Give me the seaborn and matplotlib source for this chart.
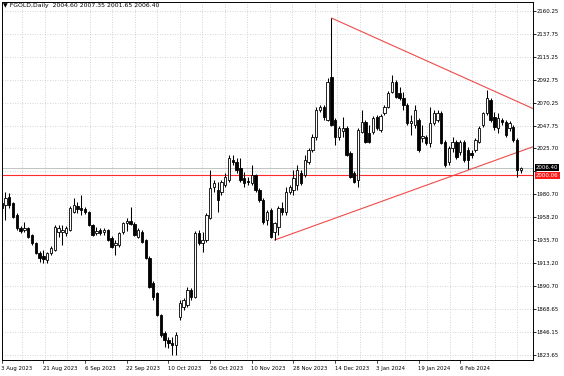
import numpy as np
import pandas as pd
import matplotlib
matplotlib.use("Agg")
import matplotlib.pyplot as plt
import matplotlib.transforms as mtransforms
from matplotlib import font_manager
import seaborn as sns

# ---------------- data ----------------
symbol = "FGOLD"
timeframe = "Daily"

opens = [
    1972.3, 1970.4, 1978.2, 1972.3, 1960.6, 1947.9, 1945.9, 1947.9, 1941.0, 1933.2,
    1923.4, 1920.5, 1916.5, 1923.4, 1926.3, 1943.9, 1943.9, 1943.0, 1945.9, 1963.5,
    1969.4, 1967.4, 1966.5, 1963.5, 1950.8, 1943.0, 1945.9, 1943.9, 1945.9, 1938.1,
    1931.2, 1931.2, 1943.9, 1952.8, 1954.7, 1951.8, 1939.0, 1943.9, 1936.1, 1918.5,
    1894.0, 1884.2, 1862.7, 1845.1, 1838.2, 1835.3, 1833.3, 1860.8, 1870.5, 1872.5,
    1887.2, 1880.3, 1943.0, 1933.2, 1936.1, 1957.6, 1988.0, 1985.0, 1983.1, 1989.9,
    1994.8, 2014.4, 2012.5, 2006.6, 1996.8, 1993.8, 1991.9, 1999.7, 1985.0, 1975.3,
    1955.7, 1965.5, 1943.9, 1948.8, 1967.4, 1963.5, 1983.1, 1985.0, 1989.9, 2001.7,
    1999.7, 2012.5, 2024.2, 2037.0, 2063.4, 2066.3, 2053.6, 2095.7, 2053.6, 2037.0,
    2042.8, 2045.7, 2021.3, 2001.7, 1994.8, 2041.8, 2051.6, 2040.8, 2041.8, 2056.5,
    2043.8, 2060.4, 2066.3, 2081.0, 2090.8, 2080.0, 2075.1, 2068.3, 2050.6, 2048.7,
    2053.6, 2036.0, 2037.0, 2031.0, 2050.6, 2053.6, 2060.4, 2032.0, 2012.5, 2026.2,
    2032.0, 2022.2, 2032.0, 2024.2, 2021.3, 2024.2, 2032.0, 2048.7, 2060.4, 2073.1,
    2056.5, 2045.7, 2053.6, 2051.6, 2045.7, 2046.7, 2034.0, 2004.60,
]
highs = [
    1977.2, 1983.1, 1982.1, 1973.3, 1962.5, 1949.8, 1953.7, 1948.8, 1942.0, 1934.2,
    1925.3, 1926.3, 1924.4, 1930.2, 1950.8, 1950.8, 1950.8, 1949.8, 1969.4, 1977.2,
    1973.3, 1980.2, 1968.4, 1964.5, 1951.8, 1948.8, 1947.9, 1947.9, 1946.9, 1940.0,
    1936.1, 1943.9, 1953.7, 1957.6, 1968.4, 1953.7, 1947.9, 1945.9, 1937.1, 1920.5,
    1896.0, 1885.2, 1863.7, 1847.1, 1841.2, 1841.2, 1846.1, 1877.4, 1879.3, 1890.1,
    1889.1, 1944.9, 1945.9, 1943.9, 1962.5, 2005.0, 1994.8, 1992.9, 1994.8, 2001.7,
    2019.3, 2019.3, 2016.4, 2016.4, 2002.7, 1997.8, 2009.5, 2000.7, 1987.0, 1977.2,
    1965.5, 1967.4, 1953.7, 1969.4, 1973.3, 1988.0, 1989.9, 2004.6, 2009.5, 2004.6,
    2019.3, 2026.2, 2039.9, 2066.3, 2068.3, 2068.3, 2094.7, 2153.4, 2055.5, 2047.7,
    2056.5, 2047.7, 2023.2, 2003.6, 2045.7, 2063.4, 2053.6, 2048.7, 2057.5, 2058.5,
    2059.4, 2068.3, 2081.9, 2097.6, 2092.7, 2085.9, 2081.0, 2070.2, 2058.5, 2068.3,
    2055.5, 2048.7, 2038.9, 2066.3, 2063.4, 2063.4, 2062.4, 2034.0, 2028.1, 2037.0,
    2034.0, 2034.0, 2034.0, 2027.1, 2024.2, 2036.0, 2047.7, 2061.4, 2082.9, 2075.1,
    2061.4, 2060.4, 2055.5, 2053.6, 2052.6, 2048.7, 2036.0, 2007.35,
]
lows = [
    1963.5, 1955.7, 1967.4, 1957.6, 1945.9, 1943.0, 1943.9, 1938.1, 1931.2, 1922.4,
    1914.6, 1913.6, 1913.6, 1921.4, 1925.3, 1939.0, 1931.2, 1940.0, 1944.9, 1962.5,
    1962.5, 1960.6, 1961.6, 1949.8, 1940.0, 1941.0, 1941.0, 1941.0, 1935.1, 1928.3,
    1921.4, 1929.3, 1942.0, 1944.9, 1950.8, 1940.0, 1938.1, 1933.2, 1917.5, 1889.1,
    1877.4, 1861.7, 1841.2, 1831.4, 1830.4, 1823.6, 1823.6, 1857.8, 1867.6, 1870.5,
    1877.4, 1879.3, 1931.2, 1924.4, 1934.2, 1956.7, 1983.1, 1963.5, 1980.2, 1988.0,
    1992.9, 2009.5, 2001.7, 1992.9, 1988.0, 1989.9, 1989.9, 1983.1, 1973.3, 1951.8,
    1950.8, 1938.1, 1936.1, 1941.0, 1960.6, 1960.6, 1981.1, 1980.2, 1985.0, 1989.9,
    1997.8, 2010.5, 2022.2, 2034.0, 2061.4, 2053.6, 2052.6, 2047.7, 2029.1, 2034.0,
    2037.0, 2018.3, 1996.8, 1991.9, 1988.0, 2040.8, 2031.0, 2031.0, 2039.9, 2043.8,
    2041.8, 2058.5, 2065.3, 2080.0, 2075.1, 2073.1, 2063.4, 2048.7, 2038.9, 2045.7,
    2022.2, 2032.0, 2029.1, 2027.1, 2048.7, 2051.6, 2030.1, 2007.6, 2009.5, 2022.2,
    2015.4, 2019.3, 2012.5, 2005.6, 2016.4, 2022.2, 2031.0, 2046.7, 2058.5, 2051.6,
    2043.8, 2040.8, 2048.7, 2037.0, 2042.8, 2032.0, 1998.0, 2001.65,
]
closes = [
    1967.4, 1977.2, 1970.4, 1958.6, 1947.9, 1944.9, 1947.9, 1939.0, 1933.2, 1923.4,
    1918.5, 1917.5, 1923.4, 1928.3, 1948.8, 1947.9, 1945.9, 1947.9, 1967.4, 1970.4,
    1966.5, 1965.5, 1963.5, 1950.8, 1941.0, 1944.9, 1943.0, 1945.9, 1936.1, 1929.3,
    1933.2, 1943.0, 1952.8, 1954.7, 1951.8, 1941.0, 1945.9, 1934.2, 1918.5, 1890.1,
    1880.3, 1862.7, 1843.1, 1838.2, 1835.3, 1833.3, 1843.1, 1874.5, 1877.4, 1887.2,
    1880.3, 1943.0, 1933.2, 1936.1, 1960.6, 1987.0, 1991.9, 1975.3, 1992.9, 1997.8,
    2016.4, 2012.5, 2004.6, 1994.8, 1991.9, 1992.9, 1999.7, 1985.0, 1975.3, 1953.7,
    1963.5, 1939.0, 1952.8, 1967.4, 1963.5, 1983.1, 1988.0, 1996.8, 2004.6, 1991.9,
    2014.4, 2024.2, 2037.0, 2063.4, 2066.3, 2056.5, 2090.8, 2048.7, 2037.0, 2045.7,
    2045.7, 2019.3, 1997.8, 1992.9, 2043.8, 2051.6, 2032.0, 2032.0, 2055.5, 2045.7,
    2057.5, 2066.3, 2080.0, 2090.8, 2076.1, 2075.1, 2068.3, 2050.6, 2052.6, 2063.4,
    2024.2, 2037.9, 2031.0, 2050.6, 2060.4, 2060.4, 2031.0, 2009.5, 2026.2, 2032.0,
    2017.4, 2032.0, 2014.4, 2014.4, 2019.3, 2034.0, 2045.7, 2060.4, 2075.1, 2053.6,
    2046.7, 2055.5, 2051.6, 2038.9, 2050.6, 2034.0, 2004.6, 2006.40,
]

date_labels = ["3 Aug 2023", "21 Aug 2023", "6 Sep 2023", "22 Sep 2023",
               "10 Oct 2023", "26 Oct 2023", "10 Nov 2023", "28 Nov 2023",
               "14 Dec 2023", "3 Jan 2024", "19 Jan 2024", "6 Feb 2024"]
date_label_bars = [0, 11, 22, 33, 44, 55, 66, 77, 88, 99, 110, 121]

price_ticks = [2160.25, 2137.75, 2115.25, 2092.75, 2070.25, 2047.75, 2025.70,
               2003.20, 1980.70, 1958.20, 1935.70, 1913.20, 1890.70, 1868.65,
               1846.15, 1823.65]
# the 2003.20 label is hidden behind the price boxes in the reference
hidden_tick_labels = [2003.20]

support_level = 2000.06
upper_trend_bars = [87, 128]
upper_trend_prices = [2153.4, 2085.1]
lower_trend_bars = [72, 123]
lower_trend_prices = [1936.1, 2004.4]

# ---------------- styling ----------------
sns.set_theme(style="white")
available = {f.name for f in font_manager.fontManager.ttflist}
if "Liberation Sans Narrow" in available:
    main_font = "Liberation Sans Narrow"
    fs = 4.7
    fs_title = 5.4
else:
    main_font = "DejaVu Sans"
    fs = 3.9
    fs_title = 4.4
plt.rcParams["font.family"] = [main_font, "DejaVu Sans"]

W, H = 564, 376
fig = plt.figure(figsize=(W / 100, H / 100), dpi=100)
fig.patch.set_facecolor("white")
ax_l, ax_r, ax_t, ax_b = 2, 533, 2, 360
ax = fig.add_axes([ax_l / W, 1 - ax_b / H, (ax_r - ax_l) / W, (ax_b - ax_t) / H])
ax.set_facecolor("white")

df = pd.DataFrame({"bar": np.arange(len(opens)), "open": opens, "high": highs,
                   "low": lows, "close": closes})
df["up"] = df["close"] >= df["open"]
df["body_low"] = df[["open", "close"]].min(axis=1)
df["body_h"] = (df["close"] - df["open"]).abs().clip(lower=0.8)

x_min, x_max = 0.08, 140.2
y_min, y_max = 1818.7, 2169.06

# grid
grid_x = np.arange(5.36, x_max, 5.94)
for gx in grid_x:
    ax.axvline(gx, color="#c6c6c6", lw=0.6, ls=(0, (1, 2)), zorder=0)
for py in price_ticks:
    ax.axhline(py, color="#c6c6c6", lw=0.6, ls=(0, (1, 2)), zorder=0)

# bid line and support line
ax.axhline(closes[-1], color="#c4c4c4", lw=0.7, zorder=1)
ax.axhline(support_level, color="#ff2a2a", lw=0.8, zorder=1)

# trend lines (rays to the right)
for bars_, prices_ in [(upper_trend_bars, upper_trend_prices),
                       (lower_trend_bars, lower_trend_prices)]:
    slope = (prices_[1] - prices_[0]) / (bars_[1] - bars_[0])
    xs = [bars_[0], x_max + 1]
    ys = [prices_[0], prices_[0] + slope * (x_max + 1 - bars_[0])]
    sns.lineplot(x=xs, y=ys, ax=ax, color="#ee4b4b", lw=0.8, zorder=2, sort=False)

# candles
ax.vlines(df["bar"], df["low"], df["high"], color="black", lw=0.75, zorder=3)
up = df[df["up"]]
dn = df[~df["up"]]
ax.bar(up["bar"], up["body_h"], bottom=up["body_low"], width=0.62,
       color="white", edgecolor="black", linewidth=0.6, zorder=4)
ax.bar(dn["bar"], dn["body_h"], bottom=dn["body_low"], width=0.62,
       color="black", edgecolor="black", linewidth=0.6, zorder=4)

ax.set_xlim(x_min, x_max)
ax.set_ylim(y_min, y_max)
ax.set_xlabel("")
ax.set_ylabel("")

# axes / ticks
ax.set_xticks([])
ax.yaxis.tick_right()
ax.set_yticks(price_ticks)
ax.set_yticklabels(["" if p in hidden_tick_labels else f"{p:.2f}"
                    for p in price_ticks])
ax.tick_params(axis="y", right=True, length=2, width=0.6, pad=0.4,
               labelsize=fs, colors="black")
for s in ax.spines.values():
    s.set_visible(True)
    s.set_color("black")
    s.set_linewidth(0.7)

# date labels
trans = mtransforms.blended_transform_factory(ax.transData, ax.transAxes)
for b, lab in zip(date_label_bars, date_labels):
    ax.text(b - 0.1, -0.023, lab, transform=trans, ha="left", va="center",
            fontsize=fs, color="black", clip_on=False)
    ax.plot([b, b], [0, -0.007], transform=trans, color="black", lw=0.5,
            clip_on=False)

# price boxes on the right axis (nudged apart slightly so they just touch)
ptrans = mtransforms.blended_transform_factory(ax.transAxes, ax.transData)
ax.text(1.0056, closes[-1] + 0.5, f"{closes[-1]:.2f}", transform=ptrans,
        ha="left", va="center", fontsize=fs, color="white", zorder=10,
        clip_on=False,
        bbox=dict(boxstyle="square,pad=0.18", fc="black", ec="none"))
ax.text(1.0056, support_level - 0.5, f"{support_level:.2f}", transform=ptrans,
        ha="left", va="center", fontsize=fs, color="white", zorder=10,
        clip_on=False,
        bbox=dict(boxstyle="square,pad=0.18", fc="#ff1a1a", ec="none"))

# title inside chart
title = (f"\u25bc {symbol},{timeframe}  {opens[-1]:.2f} {highs[-1]:.2f} "
         f"{lows[-1]:.2f} {closes[-1]:.2f}")
ax.text(1.0 / (ax_r - ax_l), 1 - 4.0 / (ax_b - ax_t), title,
        transform=ax.transAxes, ha="left", va="center", fontsize=fs_title,
        color="black", zorder=10,
        family=[main_font, "DejaVu Sans"])

fig.savefig("out.png", dpi=100, facecolor="white")
